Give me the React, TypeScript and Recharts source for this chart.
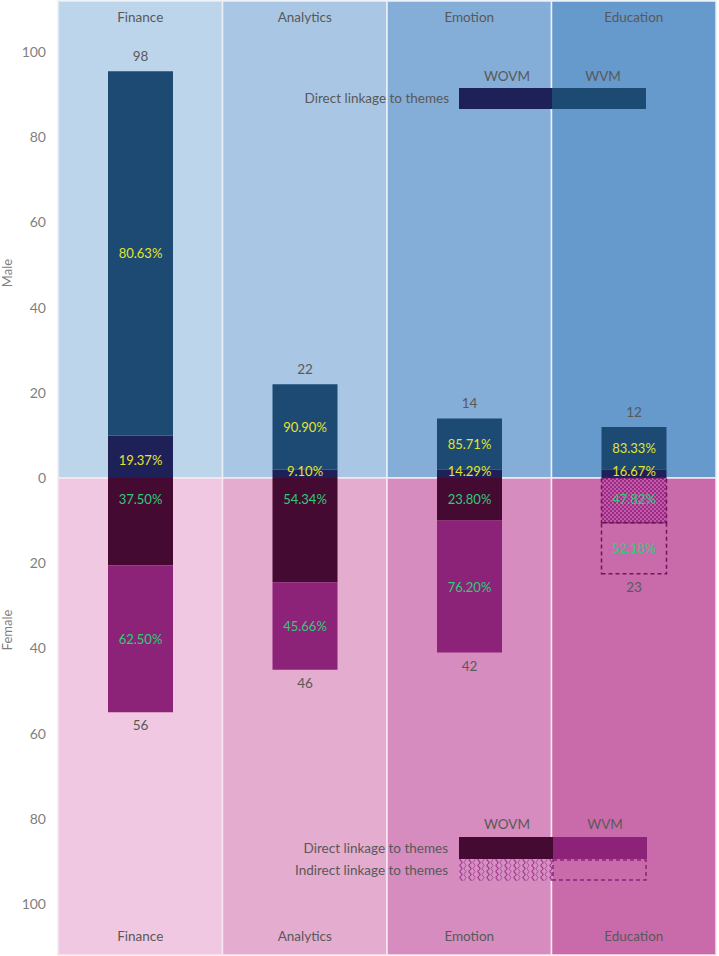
import React from 'react';
import {
  BarChart, Bar, XAxis, YAxis, ReferenceArea, LabelList, Cell,
} from 'recharts';

const categories = ['Finance', 'Analytics', 'Emotion', 'Education'];
const maleWovm = [10, 2, 2, 2];
const maleWvm = [85.5, 20, 12, 10];
const femaleWovm = [20.5, 24.5, 10, 10.5];
const femaleWvm = [34.5, 20.5, 31, 12];
const maleTotals = ['98', '22', '14', '12'];
const femaleTotals = ['56', '46', '42', '23'];
const maleWovmPct = ['19.37%', '9.10%', '14.29%', '16.67%'];
const maleWvmPct = ['80.63%', '90.90%', '85.71%', '83.33%'];
const femaleWovmPct = ['37.50%', '54.34%', '23.80%', '47.82%'];
const femaleWvmPct = ['62.50%', '45.66%', '76.20%', '52.18%'];
// Education female is "indirect linkage" (hatched / dashed)
const indirect = [false, false, false, true];
const yTicks = [-100, -80, -60, -40, -20, 0, 20, 40, 60, 80, 100];

const maleBg = ['#BDD5EB', '#A9C7E4', '#84ADD7', '#6699CC'];
const femaleBg = ['#F0C8E1', '#E4ACCE', '#D68CBE', '#C96BAA'];
const C = {
  maleWovm: '#1E2157',
  maleWvm: '#1C4A73',
  femWovm: '#450A31',
  femWvm: '#8C2378',
  yellow: '#E2E52C',
  green: '#2FCB78',
  text: '#595959',
  tick: '#7F7F7F',
};
const FONT = 'Lato, "Open Sans", sans-serif';

const data = categories.map((c, i) => ({
  name: c,
  maleWovm: maleWovm[i],
  maleWvm: maleWvm[i],
  femWovm: -femaleWovm[i],
  femWvm: -femaleWvm[i],
  maleTotal: maleTotals[i],
  femTotal: femaleTotals[i],
  maleWovmPct: maleWovmPct[i],
  maleWvmPct: maleWvmPct[i],
  femWovmPct: femaleWovmPct[i],
  femWvmPct: femaleWvmPct[i],
}));

const box = (p: any) => {
  const y = Number(p.y), h = Number(p.height);
  return { top: Math.min(y, y + h), bottom: Math.max(y, y + h), cx: Number(p.x) + Number(p.width) / 2 };
};

const txt = (x: number, y: number, value: any, fill: string, size = 13) => (
  <text x={x} y={y} textAnchor="middle" dominantBaseline="central" fill={fill}
    fontSize={size} fontFamily={FONT}>{value}</text>
);

const maleWovmLabel = (p: any) => {
  const b = box(p);
  return txt(b.cx, Math.min((b.top + b.bottom) / 2 + 3, b.bottom - 7), p.value, C.yellow);
};
const centerLabel = (color: string) => (p: any) => {
  const b = box(p);
  return txt(b.cx, (b.top + b.bottom) / 2, p.value, color);
};
const femWovmLabel = (p: any) => {
  const b = box(p);
  return txt(b.cx, b.top + 21, p.value, C.green);
};
const maleTotalLabel = (p: any) => {
  const b = box(p);
  return txt(b.cx, b.top - 15, p.value, C.text, 13.5);
};
const femTotalLabel = (p: any) => {
  const b = box(p);
  return txt(b.cx, b.bottom + 13, p.value, C.text, 13.5);
};

export default function App() {
  return (
    <div style={{ position: 'absolute', left: 0, top: 0, width: 719, height: 956, background: '#fff', fontFamily: FONT }}>
      <BarChart width={719} height={956} data={data} stackOffset="sign" barSize={65}
        margin={{ top: 1, right: 3, bottom: 1, left: 0 }}>
        <XAxis dataKey="name" hide />
        <YAxis
          domain={[-112, 112]}
          ticks={yTicks}
          tickFormatter={(v) => String(Math.abs(v))}
          width={58}
          axisLine={false}
          tickLine={false}
          tickSize={6}
          tickMargin={6}
          tick={{ fill: C.tick, fontSize: 14, fontFamily: FONT }}
        />
        {categories.map((c, i) => (
          <ReferenceArea key={'m' + c} x1={c} x2={c} y1={0} y2={112} fill={maleBg[i]} fillOpacity={1}
            stroke="#EAF0F6" strokeWidth={1.5}
            label={{ value: c, position: 'insideTop', offset: 11, fill: C.text, fontSize: 13.5, fontFamily: FONT }} />
        ))}
        {categories.map((c, i) => (
          <ReferenceArea key={'f' + c} x1={c} x2={c} y1={-112} y2={0} fill={femaleBg[i]} fillOpacity={1}
            stroke="#F6E8F0" strokeWidth={1.5}
            label={{ value: c, position: 'insideBottom', offset: 14, fill: C.text, fontSize: 13.5, fontFamily: FONT }} />
        ))}
        <Bar dataKey="maleWovm" stackId="s" fill={C.maleWovm} isAnimationActive={false}>
          <LabelList dataKey="maleWovmPct" content={maleWovmLabel} />
        </Bar>
        <Bar dataKey="maleWvm" stackId="s" fill={C.maleWvm} isAnimationActive={false}>
          <LabelList dataKey="maleWvmPct" content={centerLabel(C.yellow)} />
          <LabelList dataKey="maleTotal" content={maleTotalLabel} />
        </Bar>
        <Bar dataKey="femWovm" stackId="s" fill={C.femWovm} isAnimationActive={false}>
          {data.map((d, i) => (
            <Cell key={d.name}
              fill={indirect[i] ? 'url(#checker)' : C.femWovm}
              stroke={indirect[i] ? '#6E1660' : 'none'}
              strokeWidth={indirect[i] ? 1.5 : 0}
              strokeDasharray={indirect[i] ? '4 3' : undefined} />
          ))}
          <LabelList dataKey="femWovmPct" content={femWovmLabel} />
        </Bar>
        <Bar dataKey="femWvm" stackId="s" fill={C.femWvm} isAnimationActive={false}>
          {data.map((d, i) => (
            <Cell key={d.name}
              fill={indirect[i] ? 'transparent' : C.femWvm}
              stroke={indirect[i] ? '#6E1660' : 'none'}
              strokeWidth={indirect[i] ? 1.5 : 0}
              strokeDasharray={indirect[i] ? '4 3' : undefined} />
          ))}
          <LabelList dataKey="femWvmPct" content={centerLabel(C.green)} />
          <LabelList dataKey="femTotal" content={femTotalLabel} />
        </Bar>
      </BarChart>
      <svg width={719} height={956} style={{ position: 'absolute', left: 0, top: 0, pointerEvents: 'none' }}
        fontFamily={FONT}>
        <defs>
          <pattern id="checker" width="4" height="4" patternUnits="userSpaceOnUse">
            <rect width="4" height="4" fill="#C25AA6" />
            <rect width="2" height="2" fill="#9A2B86" />
            <rect x="2" y="2" width="2" height="2" fill="#9A2B86" />
          </pattern>
          <pattern id="waves" width="9" height="6" patternUnits="userSpaceOnUse">
            <rect width="9" height="6" fill="#D590C2" />
            <path d="M2 0 Q0 1.5 2 3 Q4 4.5 2 6" stroke="#A63A92" strokeWidth="1.3" fill="none" />
            <path d="M6 0 Q8 1.5 6 3 Q4 4.5 6 6" stroke="#B04C9C" strokeWidth="1" fill="none" />
          </pattern>
        </defs>
        <text x={7} y={273} transform="rotate(-90 7 273)" textAnchor="middle" dominantBaseline="central"
          fill={C.tick} fontSize={13}>Male</text>
        <text x={7} y={630} transform="rotate(-90 7 630)" textAnchor="middle" dominantBaseline="central"
          fill={C.tick} fontSize={13}>Female</text>

        {/* male legend */}
        <text x={507} y={76} textAnchor="middle" dominantBaseline="central" fill={C.text} fontSize={13.5}>WOVM</text>
        <text x={603} y={76} textAnchor="middle" dominantBaseline="central" fill={C.text} fontSize={13.5}>WVM</text>
        <text x={449} y={98} textAnchor="end" dominantBaseline="central" fill={C.text} fontSize={13.5}>Direct linkage to themes</text>
        <rect x={459} y={88} width={93} height={21} fill={C.maleWovm} />
        <rect x={552} y={88} width={94} height={21} fill={C.maleWvm} />

        {/* female legend */}
        <text x={507} y={824} textAnchor="middle" dominantBaseline="central" fill={C.text} fontSize={13.5}>WOVM</text>
        <text x={605} y={824} textAnchor="middle" dominantBaseline="central" fill={C.text} fontSize={13.5}>WVM</text>
        <text x={448} y={848} textAnchor="end" dominantBaseline="central" fill={C.text} fontSize={13.5}>Direct linkage to themes</text>
        <text x={448} y={870} textAnchor="end" dominantBaseline="central" fill={C.text} fontSize={13.5}>Indirect linkage to themes</text>
        <rect x={459} y={837} width={94} height={22} fill={C.femWovm} />
        <rect x={553} y={837} width={94} height={22} fill={C.femWvm} />
        <rect x={459} y={859} width={94} height={22} fill="url(#waves)" />
        <rect x={553} y={860} width={93} height={20} fill="none" stroke={C.femWvm} strokeWidth={1.5} strokeDasharray="4 3" />
      </svg>
    </div>
  );
}
